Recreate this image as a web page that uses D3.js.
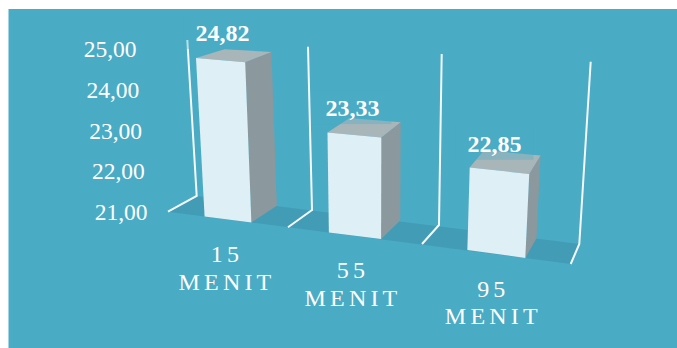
<!DOCTYPE html>
<html>
<head>
<meta charset="utf-8">
<script src="https://cdn.jsdelivr.net/npm/d3@7/dist/d3.min.js"></script>
<style>
  html, body { margin: 0; padding: 0; background: #fff; }
  svg { display: block; }
  text { font-family: "Liberation Serif", "Times New Roman", serif; fill: #fff; }
</style>
</head>
<body>
<div id="chart"></div>
<script>
// Durations and measured values
const categories = ["15", "55", "95"];
const unit = "MENIT";
const values = [24.82, 23.33, 22.85];
const valueLabels = ["24,82", "23,33", "22,85"];
const tickValues = [21, 22, 23, 24, 25];
const tickLabels = ["21,00", "22,00", "23,00", "24,00", "25,00"];

const width = 677, height = 348;
const panelColor = "#4aabc5";
const svg = d3.select("#chart").append("svg").attr("width", width).attr("height", height);

// Background panel, running off the right and bottom edges
svg.append("rect").attr("x", 8.5).attr("y", 9).attr("width", width - 8.5).attr("height", height - 9).attr("fill", panelColor);

// Oblique perspective: the wall and floor planes are anchored at the four
// category boundaries (0..3) and interpolated in between.
const stops = [0, 1, 2, 3];
const anchor = r => d3.scaleLinear().domain(stops).range(r);
const backBaseX = anchor([196.7, 312, 439, 579.3]);
const backBaseY = anchor([196, 210, 225, 244]);
const backTopX = anchor([187.3, 308, 441.7, 590.7]);
const backTopY = anchor([40, 46.7, 54, 61.7]);
const frontBaseX = anchor([168, 288, 422, 570.7]);
const frontBaseY = anchor([211.7, 227.3, 244, 264]);
const frontTopX = anchor([157, 283.5, 424.5, 581.7]);
const frontTopY = anchor([47.2, 57.8, 68, 80]);

// u: along the categories, d: 0 back .. 1 front, h: 0 floor .. 1 top of axis
function project(u, d, h) {
  const bx = backBaseX(u) + (backTopX(u) - backBaseX(u)) * h;
  const by = backBaseY(u) + (backTopY(u) - backBaseY(u)) * h;
  const fx = frontBaseX(u) + (frontTopX(u) - frontBaseX(u)) * h;
  const fy = frontBaseY(u) + (frontTopY(u) - frontBaseY(u)) * h;
  return [bx + (fx - bx) * d, by + (fy - by) * d];
}

const xBand = d3.scaleBand().domain(categories).range([0, 3]).paddingInner(0.61).paddingOuter(0.305);
const yScale = d3.scaleLinear().domain([21, 25]).range([0, 1]);
const poly = pts => d3.line()(pts) + "Z";

// Floor
svg.append("path")
  .attr("d", poly([project(0, 0, 0), project(3, 0, 0), project(3, 1, 0), project(0, 1, 0)]))
  .attr("fill", "#439cb6");

// Wall and floor guide lines at each category boundary
svg.append("g").selectAll("path").data(stops).join("path")
  .attr("d", u => d3.line()([project(u, 0, 1), project(u, 0, 0), project(u, 1, 0)]))
  .attr("fill", "none").attr("stroke", "#f4fafc").attr("stroke-width", 2);

// Bars: side, top, front
const bars = svg.append("g").selectAll("g").data(categories).join("g");
const boxCorners = (c, i) => {
  const u0 = xBand(c), u1 = u0 + xBand.bandwidth(), h = yScale(values[i]);
  return { u0, u1, h };
};
bars.append("path")
  .attr("d", (c, i) => { const b = boxCorners(c, i);
    return poly([project(b.u1, 1, 0), project(b.u1, 0, 0), project(b.u1, 0, b.h), project(b.u1, 1, b.h)]); })
  .attr("fill", "#8b989d");
bars.append("path")
  .attr("d", (c, i) => { const b = boxCorners(c, i);
    return poly([project(b.u0, 1, b.h), project(b.u0, 0, b.h), project(b.u1, 0, b.h), project(b.u1, 1, b.h)]); })
  .attr("fill", "#a8b6ba");
bars.append("path")
  .attr("d", (c, i) => { const b = boxCorners(c, i);
    return poly([project(b.u0, 1, 0), project(b.u1, 1, 0), project(b.u1, 1, b.h), project(b.u0, 1, b.h)]); })
  .attr("fill", "#deeff5");

// Value labels sit on a translucent plate above each bar
const labelNudge = [2, -2, -5];
const labelX = (c, i) => project(xBand(c) + xBand.bandwidth() / 2, 1, yScale(values[i]))[0] + labelNudge[i];
const labelY = (c, i) => project(xBand(c) + xBand.bandwidth() / 2, 1, yScale(values[i]))[1] - 19;
bars.append("rect")
  .attr("x", (c, i) => labelX(c, i) - 39)
  .attr("y", (c, i) => labelY(c, i) - 26)
  .attr("width", 78).attr("height", 34)
  .attr("fill", panelColor).attr("fill-opacity", 0.35);
bars.append("text")
  .attr("x", labelX).attr("y", labelY)
  .attr("text-anchor", "middle").attr("font-size", 24).attr("font-weight", "bold")
  .text((c, i) => valueLabels[i]);

// Value axis labels follow the front-left edge
svg.append("g").selectAll("text").data(tickValues).join("text")
  .attr("x", v => project(0, 1, yScale(v))[0] - 20.5)
  .attr("y", v => project(0, 1, yScale(v))[1] + 8.3 + 1.7 * yScale(v))
  .attr("text-anchor", "end").attr("font-size", 23.5)
  .text((v, i) => tickLabels[i]);

// Category labels on two lines below the floor
const cats = svg.append("g").selectAll("text").data(categories).join("text")
  .attr("text-anchor", "middle").attr("font-size", 24).attr("letter-spacing", 4.2);
const labelAt = (c, i) => [project(xBand(c) + xBand.bandwidth() / 2, 1, 0)[0] - 1 - i, project(xBand(c) + xBand.bandwidth() / 2, 1, 0)[1]];
cats.append("tspan").attr("x", (c, i) => labelAt(c, i)[0]).attr("y", (c, i) => labelAt(c, i)[1] + 42.5).text(c => c);
cats.append("tspan").attr("x", (c, i) => labelAt(c, i)[0]).attr("y", (c, i) => labelAt(c, i)[1] + 70).text(unit);
</script>
</body>
</html>
